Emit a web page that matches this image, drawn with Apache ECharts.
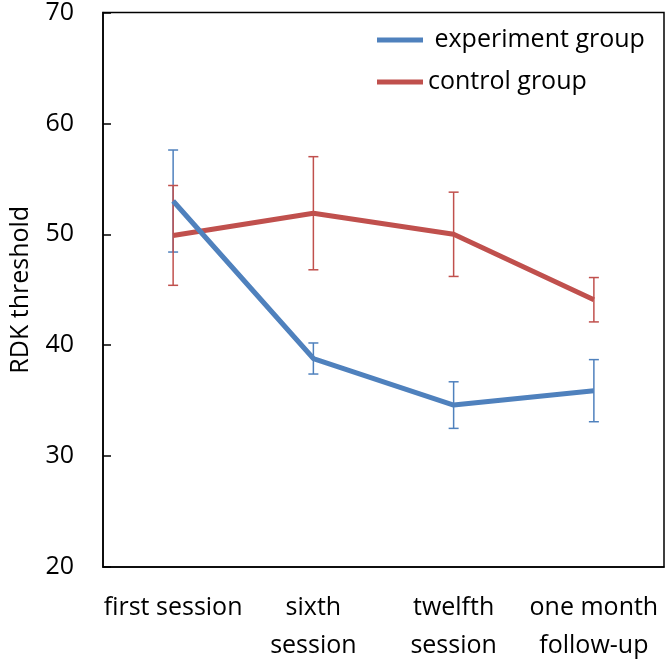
<!DOCTYPE html>
<html>
<head>
<meta charset="utf-8">
<script src="https://cdn.jsdelivr.net/npm/echarts@6/dist/echarts.min.js"></script>
<style>html,body{margin:0;padding:0;background:#fff}#c{width:666px;height:665px}</style>
</head>
<body>
<div id="c"></div>
<script>
var categories = ['first session', 'sixth\nsession', 'twelfth\nsession', 'one month\nfollow-up'];
var experimentMean = [53.0, 38.8, 34.6, 35.9];
var experimentErr = [4.6, 1.4, 2.1, 2.8];
var controlMean = [49.9, 51.9, 50.0, 44.1];
var controlErr = [4.5, 5.1, 3.8, 2.0];
var yTicks = [20, 30, 40, 50, 60, 70];

var BLUE = '#4F81BD', RED = '#C0504D';
var FONT = 'Open Sans';
var FS = 25;

function errData(mean, err) {
  return mean.map(function (m, i) { return [i, m - err[i], m + err[i]]; });
}
function errSeries(name, mean, err, color) {
  return {
    type: 'custom',
    name: name + ' err',
    data: errData(mean, err),
    z: 1,
    silent: true,
    renderItem: function (params, api) {
      var x = api.value(0);
      var lo = api.coord([x, api.value(1)]);
      var hi = api.coord([x, api.value(2)]);
      var w = 5;
      var st = { stroke: color, lineWidth: 1.5 };
      return {
        type: 'group',
        children: [
          { type: 'line', shape: { x1: lo[0], y1: lo[1], x2: hi[0], y2: hi[1] }, style: st },
          { type: 'line', shape: { x1: lo[0] - w, y1: lo[1], x2: lo[0] + w, y2: lo[1] }, style: st },
          { type: 'line', shape: { x1: hi[0] - w, y1: hi[1], x2: hi[0] + w, y2: hi[1] }, style: st }
        ]
      };
    }
  };
}

var chart = echarts.init(document.getElementById('c'), null, { renderer: 'canvas' });
chart.setOption({
  animation: false,
  backgroundColor: '#fff',
  textStyle: { fontFamily: FONT },
  grid: { left: 92, top: 11, right: 2, bottom: 90, show: true, borderColor: '#000', borderWidth: 1.5, backgroundColor: 'transparent' },
  legend: {
    orient: 'vertical',
    left: 372,
    top: 20,
    itemWidth: 46,
    itemHeight: 5,
    itemGap: 12,
    icon: 'rect',
    data: ['experiment group', 'control group'],
    formatter: function (n) { return n === 'experiment group' ? ' ' + n : n; },
    textStyle: { fontSize: FS, color: '#000', fontFamily: FONT, lineHeight: 30 }
  },
  xAxis: {
    type: 'category',
    data: categories,
    boundaryGap: true,
    axisLine: { show: true, lineStyle: { color: '#000', width: 1.5 } },
    axisTick: { show: false },
    axisLabel: { color: '#000', fontSize: FS, fontFamily: FONT, margin: 22, lineHeight: 38, interval: 0 },
    splitLine: { show: false }
  },
  yAxis: {
    type: 'value',
    min: 20, max: 70, interval: 10,
    name: 'RDK threshold',
    nameLocation: 'middle',
    nameGap: 70,
    nameTextStyle: { color: '#000', fontSize: 25, fontFamily: FONT },
    axisLine: { show: true, lineStyle: { color: '#000', width: 1.5 } },
    axisTick: { show: true, inside: true, length: 8, lineStyle: { color: '#000', width: 1.5 } },
    axisLabel: { color: '#000', fontSize: FS, fontFamily: FONT, margin: 29,
      formatter: function (v) { return yTicks.indexOf(v) >= 0 ? String(v) : ''; } },
    splitLine: { show: false }
  },
  series: [
    errSeries('experiment group', experimentMean, experimentErr, BLUE),
    errSeries('control group', controlMean, controlErr, RED),
    { type: 'line', name: 'experiment group', data: experimentMean, color: BLUE, showSymbol: false, symbol: 'none',
      lineStyle: { color: BLUE, width: 5 }, z: 3 },
    { type: 'line', name: 'control group', data: controlMean, color: RED, showSymbol: false, symbol: 'none',
      lineStyle: { color: RED, width: 5 }, z: 2 }
  ]
});
</script>
</body>
</html>
